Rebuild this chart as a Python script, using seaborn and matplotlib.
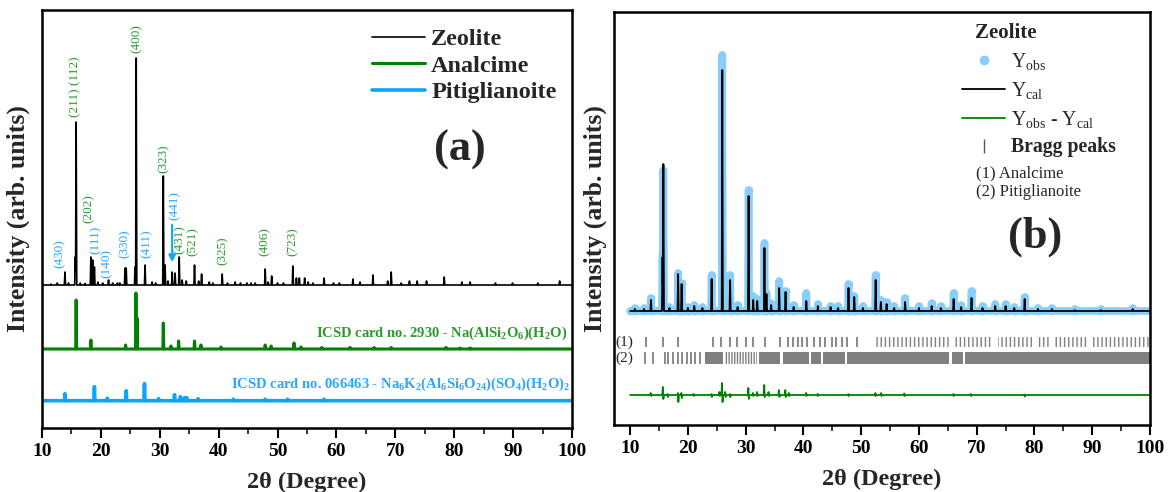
import numpy as np
import matplotlib
matplotlib.use("Agg")
import matplotlib.pyplot as plt
import seaborn as sns
from matplotlib.lines import Line2D

# ---------------- data: panel (a) ----------------
zeo_pos = [11.5, 12.6, 13.9, 14.5, 15.65, 15.8, 16.5, 17.3, 18.3, 18.6, 18.9, 19.5, 20.3, 21.3,
           22.0, 22.8, 23.2, 24.1, 24.3, 25.8, 26.0, 27.5, 28.7, 29.3, 30.6, 30.9, 31.4,
           32.1, 32.6, 33.3, 33.8, 34.5, 35.9, 36.6, 37.1, 38.4, 39.0, 40.6, 41.5, 42.8,
           43.7, 44.8, 45.5, 46.2, 47.9, 48.4, 49.0, 50.0, 51.0, 52.6, 53.2, 53.7, 54.6,
           55.2, 56.0, 57.9, 59.5, 60.5, 62.8, 64.0, 66.2, 68.7, 69.3, 71.0, 72.4, 73.7,
           75.3, 78.3, 81.3, 82.7, 87.0, 89.9, 94.2, 97.9]
zeo_int = [1, 2, 13, 2, 28, 163, 2, 1.5, 28, 25, 18, 3, 2, 5,
           2, 2, 2, 17, 17, 18, 227, 20, 3, 2, 109, 20, 4,
           13, 12, 28, 5, 4, 20, 4, 11, 3, 2, 11, 2, 3,
           2, 2, 2, 2, 16, 3, 9, 2, 2, 19, 7, 7, 7,
           3, 2, 7, 2, 2, 6, 3, 10, 4, 13, 2, 4, 4,
           4, 8, 3, 3, 2, 2, 2, 4]
ana_pos = [15.8, 18.3, 24.2, 25.95, 26.15, 30.6, 31.9, 33.2, 35.9, 37.0, 40.4, 47.9, 48.9,
           52.8, 54.0, 57.5, 62.3, 66.4, 69.3, 78.6, 81.0, 82.7]
ana_int = [49, 9, 4, 56, 31, 26, 3, 8, 8, 4, 2, 4, 3,
           6, 2, 1.5, 1.5, 1.5, 1.5, 1.5, 1, 1]
pit_pos = [13.9, 18.9, 21.1, 24.3, 27.4, 29.8, 32.5, 33.5, 34.2, 34.6, 36.5, 42.5, 47.9, 51.7, 57.9]
pit_int = [7, 14, 2.5, 10, 17, 2, 6, 4, 3, 3, 2, 1.5, 1.5, 1.5, 1.5]

hkl_labels = ['(430)', '(211) (112)', '(202)', '(111)', '(140)', '(330)', '(400)', '(411)',
              '(323)', '(441)', '(431)', '(521)', '(325)', '(406)', '(723)']
hkl_x = [13.0, 15.7, 18.0, 19.1, 21.0, 24.0, 26.0, 27.8, 30.6, 32.5, 33.3, 35.6, 40.6, 47.8, 52.6]
hkl_y = [174, 341, 219, 188, 165, 184, 389, 184, 269, 222, 188, 186, 177, 186, 186]
hkl_phase = ['P', 'A', 'A', 'P', 'P', 'P', 'A', 'P', 'A', 'P', 'A', 'A', 'A', 'A', 'A']

# ---------------- data: panel (b) ----------------
cal_pos = [10.8, 12.4, 13.6, 15.6, 15.75, 16.8, 18.3, 18.9, 20.0, 21.1, 22.5, 24.1, 25.95,
           27.3, 28.6, 30.5, 31.3, 32.0, 33.25, 33.6, 34.4, 35.8, 36.9, 38.3, 40.5, 42.5,
           44.7, 46.0, 47.8, 48.8, 50.3, 52.5, 53.4, 54.4, 55.7, 57.6, 60.0, 62.2, 63.8,
           66.0, 67.3, 69.1, 71.0, 73.2, 75.0, 76.5, 78.3, 80.6, 83.0, 87.0, 91.5, 97.0]
cal_int = [2, 2, 11, 54, 147, 3, 37, 27, 3, 5, 3, 32, 241,
           31, 4, 115, 11, 10, 63, 17, 6, 23, 19, 4, 10, 5,
           4, 3, 23, 14, 3, 31, 9, 7, 3, 9, 3, 5, 3,
           12, 4, 13, 3, 5, 5, 3, 12, 2, 2, 1, 1, 2]
obs_int = [3, 3, 13, 56, 141, 4, 38, 28, 4, 6, 4, 36, 256,
           36, 6, 121, 15, 12, 68, 18, 8, 30, 20, 6, 18, 7,
           5, 5, 27, 15, 5, 36, 11, 9, 5, 13, 5, 8, 5,
           18, 6, 20, 5, 7, 7, 4, 14, 3, 3, 2, 2, 3]
diff_pos = [13.6, 15.7, 16.5, 18.3, 18.9, 21.0, 24.1, 25.5, 25.95, 26.5, 27.3, 30.5, 31.3,
            32.0, 33.25, 34.0, 35.8, 36.9, 37.5, 40.5, 42.5, 47.8, 52.5, 53.5, 57.5, 66.0,
            69.0, 78.3]
diff_up = [2, 8, 1, 2, 2, 1, 1, 3, 12, 3, 1, 7, 2,
           3, 10, 3, 5, 5, 2, 2, 1, 1, 2, 2, 1.5, 1,
           1, 0.5]
diff_dn = [1, 4, 2, 7, 3, 1, 2, 1, 7, 2, 2, 4, 1,
           1, 2, 1, 2, 2, 1, 1, 1, 1, 1, 1, 1, 1,
           1, 1.5]
ana_bragg = [12.7, 15.7, 18.3, 24.3, 25.8, 27.2, 28.5, 30.0, 31.3, 33.3, 36.0, 37.4, 38.2,
             39.0, 39.8, 40.6, 41.8, 42.8, 43.8, 44.9, 45.6, 46.6, 47.6, 49.3]
ana_bragg_dense = [(52.2, 65.2), (65.9, 72.5), (73.7, 79.7), (80.6, 82.6), (83.2, 89.3), (89.7, 100)]
pit_bragg = [12.6, 14.0, 16.0, 16.6, 17.4, 18.3, 19.0, 19.8, 20.6, 21.3, 22.1]
pit_bragg_dense = [(22.9, 26.1), (32.3, 35.9), (36.5, 40.9), (41.3, 43.0), (43.3, 47.2),
                   (47.6, 65.2), (65.7, 67.6), (67.9, 100)]
pit_bragg_hatched = [(26.4, 31.9)]

x_ticks = [10, 20, 30, 40, 50, 60, 70, 80, 90, 100]

# ---------------- style ----------------
sns.set_theme(style="ticks")
plt.rcParams['font.family'] = ['Liberation Serif', 'DejaVu Serif']
plt.rcParams['mathtext.default'] = 'regular'
plt.rcParams['hatch.linewidth'] = 1.0

BLACK = '#000000'
GREEN = '#008000'
LGREEN = '#2f9a2f'
BLUE = '#0AA5FF'
LBLUE = '#2aa8ff'
OBS = '#87CEFA'
GREY = '#808080'


def stick_profile(pos, hts, w, lo=10.0, hi=100.0):
    pos = np.asarray(pos, float)
    hts = np.asarray(hts, float)
    xs = np.unique(np.concatenate([[lo, hi], pos - w, pos, pos + w]))
    ys = np.max(np.clip(hts[:, None] * (1 - np.abs(xs[None, :] - pos[:, None]) / w), 0, None), axis=0)
    return xs, ys


def diff_profile(pos, up, dn, lo=10.0, hi=100.0):
    xs, ys = [lo], [0.0]
    for p, u, d in zip(pos, up, dn):
        xs += [p - 0.15, p - 0.04, p + 0.04, p + 0.15]
        ys += [0.0, u, -d, 0.0]
    xs.append(hi)
    ys.append(0.0)
    return np.array(xs), np.array(ys)


fig = plt.figure(figsize=(11.69, 4.92), dpi=100)
axA = fig.add_axes([42 / 1169, 64 / 492, 530 / 1169, 418 / 492])
axB = fig.add_axes([614 / 1169, 67 / 492, 536 / 1169, 413 / 492])

# ---------------- panel (a) ----------------
xz, yz = stick_profile(zeo_pos, zeo_int, 0.1)
xa, ya = stick_profile(ana_pos, ana_int, 0.08)
xp, yp = stick_profile(pit_pos, pit_int, 0.08)
sns.lineplot(x=xz, y=yz + 143, ax=axA, color=BLACK, lw=1.2, estimator=None, sort=False, label='Zeolite')
sns.lineplot(x=xa, y=ya + 79, ax=axA, color=GREEN, lw=2.2, estimator=None, sort=False, label='Analcime')
sns.lineplot(x=xp, y=yp + 27.3, ax=axA, color=BLUE, lw=2.6, estimator=None, sort=False, label='Pitiglianoite')

for lab, x, y, ph in zip(hkl_labels, hkl_x, hkl_y, hkl_phase):
    axA.text(x, y, lab, rotation=90, ha='center', va='center', fontsize=9.5,
             color=LGREEN if ph == 'A' else LBLUE)
axA.annotate('', xy=(32.1, 163), xytext=(32.1, 206),
             arrowprops=dict(arrowstyle='-|>', color=BLUE, lw=1.5, mutation_scale=10))

axA.text(99.2, 95, r'ICSD card no. 2930 - Na(AlSi$_2$O$_6$)(H$_2$O)', ha='right', va='center',
         fontsize=10.5, fontweight='bold', color=LGREEN)
axA.text(99.7, 44, r'ICSD card no. 066463 - Na$_6$K$_2$(Al$_6$Si$_6$O$_{24}$)(SO$_4$)(H$_2$O)$_2$',
         ha='right', va='center', fontsize=10.5, fontweight='bold', color=LBLUE)

legA = axA.legend(loc='upper left', bbox_to_anchor=(0.599, 0.985), frameon=False, borderpad=0,
                  handlelength=2.2, handletextpad=0.25, labelspacing=0.18,
                  prop={'family': 'Liberation Serif', 'weight': 'bold', 'size': 17.5})
axA.text(0.789, 0.665, '(a)', transform=axA.transAxes, ha='center', va='center',
         fontsize=32, fontweight='bold')

axA.set_xlim(10, 100)
axA.set_ylim(0, 418)

# ---------------- panel (b) ----------------
xc, yc = stick_profile(cal_pos, cal_int, 0.1)
xo, yo = stick_profile(cal_pos, obs_int, 0.1)
xd, yd = diff_profile(diff_pos, diff_up, diff_dn)
sns.lineplot(x=xo, y=yo + 114, ax=axB, color=OBS, lw=5.5, estimator=None, sort=False,
             marker='o', markersize=5.5, markeredgewidth=0)
sns.lineplot(x=xc, y=yc + 114, ax=axB, color=BLACK, lw=1.3, estimator=None, sort=False)
sns.lineplot(x=xd, y=yd + 30, ax=axB, color=GREEN, lw=1.3, estimator=None, sort=False)

axB.vlines(ana_bragg, 78, 88, color=GREY, lw=1.3)
for a, b in ana_bragg_dense:
    axB.fill_between([a, b], 78, 88, facecolor='none', edgecolor=GREY, hatch='||||', linewidth=0)
axB.vlines(pit_bragg, 61, 73, color=GREY, lw=1.3)
for a, b in pit_bragg_dense:
    axB.fill_between([a, b], 61, 73, facecolor=GREY, edgecolor='none', linewidth=0)
for a, b in pit_bragg_hatched:
    axB.fill_between([a, b], 61, 73, facecolor='none', edgecolor=GREY, hatch='||||||', linewidth=0)
axB.text(8.9, 83, '(1)', ha='center', va='center', fontsize=11)
axB.text(8.9, 67, '(2)', ha='center', va='center', fontsize=11)

hB = [Line2D([], [], ls='none', marker='o', color=OBS, markersize=7, markeredgewidth=0),
      Line2D([], [], color=BLACK, lw=1.3),
      Line2D([], [], color=GREEN, lw=1.3),
      Line2D([], [], ls='none', marker='|', color='#555555', markersize=10, markeredgewidth=1)]
lB = [r'Y$_{obs}$', r'Y$_{cal}$', r'Y$_{obs}$ - Y$_{cal}$', 'Bragg peaks']
legB = axB.legend(hB, lB, loc='upper left', bbox_to_anchor=(0.631, 0.930), frameon=False,
                  borderpad=0, handlelength=2.2, handletextpad=0.3, labelspacing=0.4,
                  prop={'family': 'Liberation Serif', 'size': 14.2})
legB.get_texts()[3].set_fontweight('bold')
axB.text(0.673, 0.949, 'Zeolite', transform=axB.transAxes, ha='left', va='center',
         fontsize=15, fontweight='bold')
axB.text(0.675, 0.61, '(1) Analcime', transform=axB.transAxes, ha='left', va='center', fontsize=12)
axB.text(0.675, 0.565, '(2) Pitiglianoite', transform=axB.transAxes, ha='left', va='center', fontsize=12)
axB.text(0.785, 0.457, '(b)', transform=axB.transAxes, ha='center', va='center',
         fontsize=32, fontweight='bold')

axB.set_xlim(7.2, 100)
axB.set_ylim(0, 413)

# ---------------- axes styling ----------------
for ax, ylx in ((axA, -0.022), (axB, -0.013)):
    ax.set_xticks(x_ticks)
    ax.set_xticks([15, 25, 35, 45, 55, 65, 75, 85, 95], minor=True)
    ax.set_yticks([])
    ax.tick_params(axis='x', which='major', direction='out', length=7, width=1.5, pad=4,
                   labelsize=14, colors=BLACK)
    ax.tick_params(axis='x', which='minor', direction='out', length=4, width=1.3)
    for lbl in ax.get_xticklabels():
        lbl.set_fontweight('bold')
    for s in ax.spines.values():
        s.set_linewidth(1.8)
        s.set_color(BLACK)
    ax.set_xlabel('2θ (Degree)', fontsize=17.5, fontweight='bold')
    ax.set_ylabel('Intensity (arb. units)', fontsize=18.5, fontweight='bold')
    ax.yaxis.set_label_coords(ylx, 0.5)
    ax.xaxis.set_label_coords(0.5, -0.105)
    ax.set_facecolor('white')

fig.savefig('out.png', dpi=100, facecolor='white')
